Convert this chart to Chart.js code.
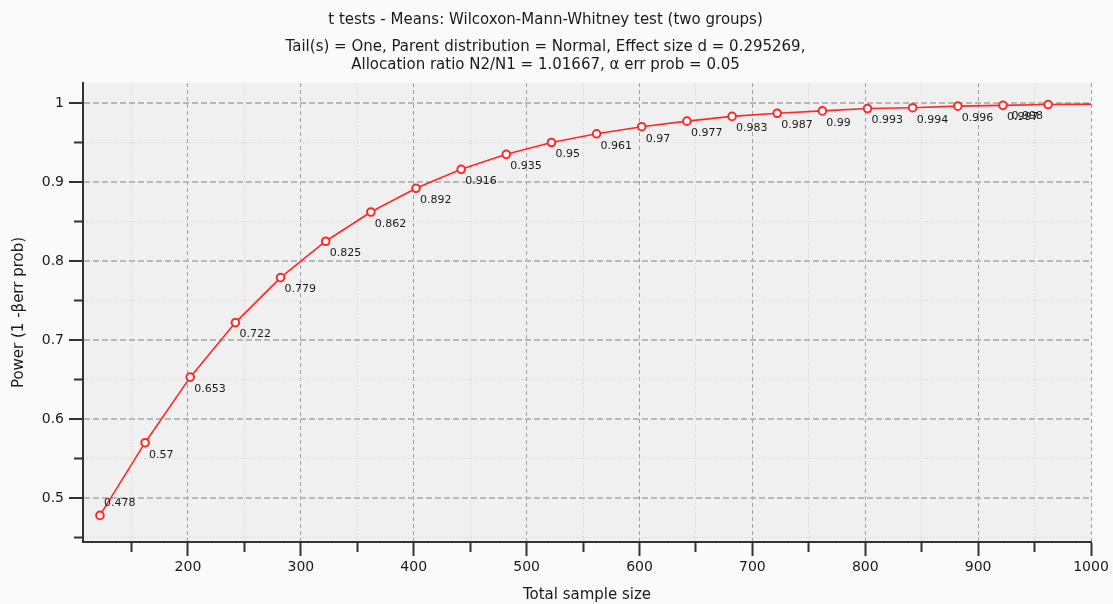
<!DOCTYPE html>
<html>
<head>
<meta charset="utf-8">
<script src="https://cdn.jsdelivr.net/npm/chart.js@4"></script>
<style>
  html, body { margin: 0; padding: 0; background: #fafafa; }
  #wrap { width: 1113px; height: 604px; }
</style>
</head>
<body>
<div id="wrap"><canvas id="Power"></canvas></div>
<script>
// Total sample size at each computed point
const SAMPLE_SIZE = [122, 162, 202, 242, 282, 322, 362, 402, 442, 482, 522,
  562, 602, 642, 682, 722, 762, 802, 842, 882, 922, 962];

// Power (1 - beta err prob)
const POWER = [0.478, 0.57, 0.653, 0.722, 0.779, 0.825, 0.862, 0.892, 0.916,
  0.935, 0.95, 0.961, 0.97, 0.977, 0.983, 0.987, 0.99, 0.993, 0.994, 0.996,
  0.997, 0.998];

// Labels printed next to each point
const POWER_LABELS = ["0.478", "0.57", "0.653", "0.722", "0.779", "0.825",
  "0.862", "0.892", "0.916", "0.935", "0.95", "0.961", "0.97", "0.977",
  "0.983", "0.987", "0.99", "0.993", "0.994", "0.996", "0.997", "0.998"];

// The curve runs on to the right edge without a marker
const CURVE_END_X = 1000;
const CURVE_END_Y = 0.9985;

// Axis ticks (every second one is labelled)
const X_TICKS = [150, 200, 250, 300, 350, 400, 450, 500, 550, 600, 650, 700,
  750, 800, 850, 900, 950, 1000];
const Y_TICKS = [0.45, 0.5, 0.55, 0.6, 0.65, 0.7, 0.75, 0.8, 0.85, 0.9, 0.95, 1];

const X_MIN = 107;
const X_MAX = 1000;
const Y_MIN = 0.4443;
const Y_MAX = 1.0253;

const FONT = "'DejaVu Sans', sans-serif";
const RED = "rgb(255,40,40)";

function isMajorX(v) {
  return Math.round(v) % 100 === 0;
}
function isMajorY(v) {
  return Math.round(v * 100) % 10 === 0;
}

// plot area background
const plotBackground = {
  id: "plotBackground",
  beforeDraw(chart) {
    const a = chart.chartArea;
    const ctx = chart.ctx;
    ctx.save();
    ctx.fillStyle = "#f0f0f0";
    ctx.fillRect(a.left, a.top, a.right - a.left, a.bottom - a.top);
    ctx.restore();
  },
};

// value labels next to the markers
const pointLabels = {
  id: "pointLabels",
  afterDatasetsDraw(chart) {
    const ctx = chart.ctx;
    const meta = chart.getDatasetMeta(0);
    const area = chart.chartArea;
    ctx.save();
    ctx.font = "11px " + FONT;
    ctx.fillStyle = "#1a1a1a";
    ctx.textBaseline = "middle";
    POWER_LABELS.forEach((txt, i) => {
      const p = meta.data[i];
      let x = p.x + 4;
      let y = p.y + 12;
      ctx.textAlign = "left";
      if (y + 20 > area.bottom) y = p.y - 12;
      if (i === POWER_LABELS.length - 1) {
        ctx.textAlign = "right";
        x = p.x - 5;
      }
      ctx.fillText(txt, x, y);
    });
    ctx.restore();
  },
};

const lineData = SAMPLE_SIZE.map((x, i) => ({ x: x, y: POWER[i] }));
lineData.push({ x: CURVE_END_X, y: CURVE_END_Y });

const CHART_POWER = document.getElementById("Power");

if (CHART_POWER != null) {
  let chart_power = new Chart(CHART_POWER, {
    type: "scatter",
    data: {
      datasets: [
        {
          label: "Power",
          showLine: true,
          borderColor: RED,
          borderWidth: 1.6,
          lineTension: 0,
          pointRadius: (c) => (c.dataIndex < SAMPLE_SIZE.length ? 3.8 : 0),
          pointBackgroundColor: "#ffffff",
          pointBorderColor: RED,
          pointBorderWidth: 2,
          data: lineData,
        },
      ],
    },
    plugins: [plotBackground, pointLabels],
    options: {
      responsive: true,
      maintainAspectRatio: false,
      animation: false,
      layout: {
        padding: { left: 0, right: 22, top: 0, bottom: 0 },
      },
      plugins: {
        legend: { display: false },
        tooltip: { enabled: false },
        title: {
          display: true,
          text: "t tests - Means: Wilcoxon-Mann-Whitney test (two groups)",
          color: "#1a1a1a",
          font: { family: FONT, size: 15, weight: "normal", lineHeight: 1.2 },
          padding: { top: 11, bottom: 0 },
        },
        subtitle: {
          display: true,
          text: [
            "Tail(s) = One, Parent distribution = Normal, Effect size d = 0.295269,",
            "Allocation ratio N2/N1 = 1.01667, \u03b1 err prob = 0.05",
          ],
          color: "#1a1a1a",
          font: { family: FONT, size: 15, weight: "normal", lineHeight: 1.2 },
          padding: { top: 9, bottom: 9 },
        },
      },
      scales: {
        x: {
          type: "linear",
          min: X_MIN,
          max: X_MAX,
          afterBuildTicks: (scale) => {
            scale.ticks = X_TICKS.map((v) => ({ value: v }));
          },
          afterFit: (scale) => {
            scale.height = 62;
          },
          ticks: {
            autoSkip: false,
            maxRotation: 0,
            padding: 3,
            color: "#1a1a1a",
            font: { family: FONT, size: 14 },
            callback: (v) => (isMajorX(v) ? String(v) : ""),
          },
          grid: {
            color: (c) => (c.tick && isMajorX(c.tick.value) ? "#a0a0a0" : "#d2d2d2"),
            lineWidth: 1,
            tickLength: 14,
            tickColor: "#333333",
            tickWidth: 2,
            tickBorderDash: (c) => (c.tick && isMajorX(c.tick.value) ? [] : [9, 100]),
          },
          border: {
            display: true,
            color: "#333333",
            width: 2,
            dash: (c) => (c.tick && isMajorX(c.tick.value) ? [4, 3] : [1, 2]),
          },
          title: {
            display: true,
            text: "Total sample size",
            color: "#1a1a1a",
            font: { family: FONT, size: 15 },
            padding: { top: 0, bottom: 0 },
          },
        },
        y: {
          type: "linear",
          min: Y_MIN,
          max: Y_MAX,
          afterBuildTicks: (scale) => {
            scale.ticks = Y_TICKS.map((v) => ({ value: v }));
          },
          afterFit: (scale) => {
            scale.width = 83;
          },
          ticks: {
            autoSkip: false,
            padding: 5,
            color: "#1a1a1a",
            font: { family: FONT, size: 14 },
            callback: (v) => (isMajorY(v) ? String(Math.round(v * 10) / 10) : ""),
          },
          grid: {
            color: (c) => (c.tick && isMajorY(c.tick.value) ? "#b8b8b8" : "#d2d2d2"),
            lineWidth: (c) => (c.tick && isMajorY(c.tick.value) ? 2 : 1),
            tickLength: 14,
            tickColor: "#333333",
            tickWidth: 2,
            tickBorderDash: (c) => (c.tick && isMajorY(c.tick.value) ? [] : [0, 5, 9, 100]),
          },
          border: {
            display: true,
            color: "#333333",
            width: 2,
            dash: (c) => (c.tick && isMajorY(c.tick.value) ? [6, 3] : [1, 2]),
          },
          title: {
            display: true,
            text: "Power (1 -\u03b2err prob)",
            color: "#1a1a1a",
            font: { family: FONT, size: 15 },
            padding: { top: 10, bottom: 0 },
          },
        },
      },
    },
  });
}
</script>
</body>
</html>
